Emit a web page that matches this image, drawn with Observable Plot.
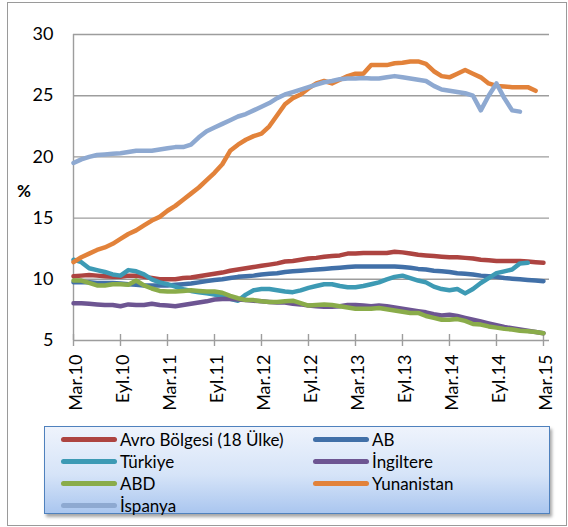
<!DOCTYPE html>
<html>
<head>
<meta charset="utf-8">
<script src="https://cdn.jsdelivr.net/npm/d3@7"></script>
<script src="https://cdn.jsdelivr.net/npm/@observablehq/plot@0.6"></script>
<style>
  html, body { margin: 0; padding: 0; background: #fff; }
  #wrap { position: relative; width: 568px; height: 527px; font-family: Lato, "Liberation Sans", sans-serif; color: #000; }
  #frame { position: absolute; left: 7px; top: 2px; width: 560px; height: 524px; border: 1.5px solid #9a9a9a; box-sizing: border-box; }
  #chart { position: absolute; left: 0; top: 0; }
  #ylabel { position: absolute; left: 17px; top: 180px; font-size: 17px; font-weight: bold; }
  #legend { position: absolute; left: 44px; top: 426px; width: 506px; height: 88px; box-sizing: border-box;
            border: 1.5px solid #4f81bd; background: linear-gradient(to bottom, #eef3fc 0%, #d6e4f8 55%, #aac6ef 100%);
            box-shadow: 2px 3px 3px rgba(0,0,0,0.35); }
  .item { position: absolute; height: 22px; display: flex; align-items: center; font-size: 17px; white-space: nowrap; }
  .sw { width: 56px; height: 5px; border-radius: 3px; margin-right: 3px; }
</style>
</head>
<body>
<div id="wrap">
  <div id="frame"></div>
  <div id="chart"></div>
  <div id="ylabel">%</div>
  <div id="legend"></div>
</div>
<script>
// ---- data (monthly, Mar.10 .. Mar.15) ----
const xTickLabels = ["Mar.10","Eyl.10","Mar.11","Eyl.11","Mar.12","Eyl.12","Mar.13","Eyl.13","Mar.14","Eyl.14","Mar.15"];
const yTicks = [5, 10, 15, 20, 25, 30];

const seriesNames = ["Avro Bölgesi (18 Ülke)", "AB", "Türkiye", "İngiltere", "ABD", "Yunanistan", "İspanya"];
const seriesColors = ["#ad4441", "#4170a8", "#3d9ab4", "#6d5592", "#8aac4a", "#e2823a", "#8ea9d1"];

const avro = [10.25,10.3,10.35,10.3,10.25,10.2,10.2,10.3,10.3,10.2,
  10.1,10.0,10.0,10.0,10.1,10.15,10.25,10.35,10.45,10.55,
  10.7,10.8,10.9,11.0,11.1,11.2,11.3,11.45,11.5,11.6,
  11.7,11.75,11.85,11.9,11.95,12.1,12.1,12.15,12.15,12.15,
  12.15,12.25,12.2,12.1,12.0,11.95,11.9,11.85,11.8,11.8,
  11.75,11.7,11.6,11.55,11.5,11.5,11.5,11.5,11.45,11.4,
  11.35];
const ab = [9.75,9.75,9.75,9.7,9.7,9.7,9.65,9.6,9.55,9.5,
  9.5,9.5,9.5,9.55,9.6,9.65,9.75,9.85,9.95,10.0,
  10.1,10.2,10.25,10.3,10.4,10.45,10.5,10.6,10.65,10.7,
  10.75,10.8,10.85,10.9,10.95,11.0,11.05,11.05,11.05,11.05,
  11.05,11.05,11.0,10.95,10.85,10.8,10.7,10.65,10.6,10.5,
  10.45,10.4,10.3,10.25,10.2,10.1,10.05,10.0,9.95,9.9,
  9.85];
const turkiye = [11.6,11.4,10.9,10.75,10.6,10.4,10.3,10.75,10.65,10.4,
  10.0,9.75,9.6,9.4,9.2,9.05,8.95,8.85,8.75,8.6,
  8.4,8.25,8.75,9.1,9.2,9.2,9.1,9.0,8.95,9.1,
  9.3,9.45,9.6,9.6,9.45,9.35,9.35,9.45,9.6,9.75,
  10.0,10.2,10.3,10.1,9.9,9.75,9.4,9.2,9.1,9.2,
  8.85,9.2,9.7,10.1,10.5,10.65,10.8,11.3,11.35];
const ingiltere = [8.05,8.05,8.0,7.95,7.9,7.9,7.8,7.95,7.9,7.9,
  8.0,7.9,7.85,7.8,7.9,8.0,8.1,8.2,8.35,8.4,
  8.4,8.35,8.3,8.25,8.2,8.15,8.1,8.1,8.0,7.95,
  7.85,7.8,7.75,7.75,7.8,7.9,7.9,7.85,7.8,7.85,
  7.8,7.7,7.6,7.5,7.4,7.3,7.15,7.05,7.1,7.0,
  6.85,6.7,6.55,6.4,6.25,6.1,6.0,5.9,5.8,5.7,
  5.6];
const abd = [9.9,9.9,9.7,9.5,9.5,9.6,9.6,9.55,9.9,9.5,
  9.25,9.05,9.0,9.0,9.05,9.1,9.05,9.0,9.0,8.9,
  8.65,8.45,8.3,8.3,8.2,8.15,8.15,8.2,8.25,8.05,
  7.85,7.9,7.95,7.9,7.8,7.7,7.6,7.6,7.6,7.65,
  7.55,7.45,7.35,7.25,7.25,7.0,6.85,6.7,6.7,6.75,
  6.6,6.35,6.3,6.15,6.05,5.95,5.9,5.8,5.75,5.7,
  5.6];
const yunanistan = [11.4,11.8,12.1,12.4,12.6,12.9,13.3,13.7,14.0,14.4,
  14.8,15.1,15.6,16.0,16.5,17.0,17.5,18.1,18.7,19.4,
  20.5,21.0,21.4,21.7,21.9,22.5,23.4,24.3,24.8,25.1,
  25.6,26.0,26.2,26.0,26.3,26.6,26.8,26.8,27.5,27.5,
  27.5,27.65,27.7,27.8,27.8,27.6,27.0,26.6,26.5,26.8,
  27.1,26.8,26.5,26.0,25.8,25.75,25.7,25.7,25.7,25.4];
const ispanya = [19.5,19.8,20.0,20.15,20.2,20.25,20.3,20.4,20.5,20.5,
  20.5,20.6,20.7,20.8,20.8,21.0,21.6,22.1,22.4,22.7,
  23.0,23.3,23.5,23.8,24.1,24.4,24.8,25.1,25.3,25.5,
  25.7,25.9,26.1,26.2,26.35,26.4,26.4,26.45,26.4,26.4,
  26.5,26.6,26.5,26.4,26.3,26.2,25.8,25.5,25.4,25.3,
  25.2,25.0,23.8,25.0,26.0,24.8,23.8,23.7];

const seriesValues = [avro, ab, turkiye, ingiltere, abd, yunanistan, ispanya];
const xTickPos = xTickLabels.map((_, i) => i * 6);

const rows = [];
seriesValues.forEach((vals, s) => vals.forEach((v, m) => rows.push({series: seriesNames[s], m, v})));

const gridColor = "#9d9d9d";

const chart = Plot.plot({
  width: 568,
  height: 425,
  marginLeft: 73,
  marginRight: 19,
  marginTop: 34,
  marginBottom: 85,
  style: {fontFamily: "Lato, 'Liberation Sans', sans-serif", fontSize: "18px", color: "#000", background: "transparent", overflow: "visible"},
  x: {type: "linear", domain: [0, 60.77]},
  y: {domain: [5, 30]},
  color: {domain: seriesNames, range: seriesColors},
  marks: [
    Plot.gridY(yTicks.slice(1), {stroke: gridColor, strokeOpacity: 1, strokeWidth: 1.4}),
    Plot.ruleY([yTicks[0]], {stroke: gridColor, strokeWidth: 1.4}),
    Plot.ruleX([0], {stroke: gridColor, strokeWidth: 1.4}),
    Plot.ruleX(xTickPos, {y1: yTicks[0], y2: yTicks[0], insetTop: -6, insetBottom: -6, stroke: gridColor, strokeWidth: 1.4}),
    Plot.axisY(yTicks, {tickSize: 0, tickPadding: 20, fontSize: 18, label: null}),
    Plot.axisX(xTickPos, {tickSize: 0, tickPadding: 14, tickRotate: -90, dx: 3, fontSize: 18, label: null, tickFormat: (d) => xTickLabels[d / 6]}),
    Plot.line(rows, {x: "m", y: "v", z: "series", stroke: "series", strokeWidth: 4.5, strokeLinejoin: "round", strokeLinecap: "round"})
  ]
});
document.getElementById("chart").appendChild(chart);

// legend
const legend = document.getElementById("legend");
const legendPos = [[16, 0], [268, 0], [16, 1], [268, 1], [16, 2], [268, 2], [16, 3]];
seriesNames.forEach((name, i) => {
  const [lx, row] = legendPos[i];
  const div = document.createElement("div");
  div.className = "item";
  div.style.left = lx + "px";
  div.style.top = (1 + row * 22) + "px";
  const sw = document.createElement("span");
  sw.className = "sw";
  sw.style.background = seriesColors[i];
  const t = document.createElement("span");
  t.textContent = name;
  div.appendChild(sw);
  div.appendChild(t);
  legend.appendChild(div);
});
</script>
</body>
</html>
